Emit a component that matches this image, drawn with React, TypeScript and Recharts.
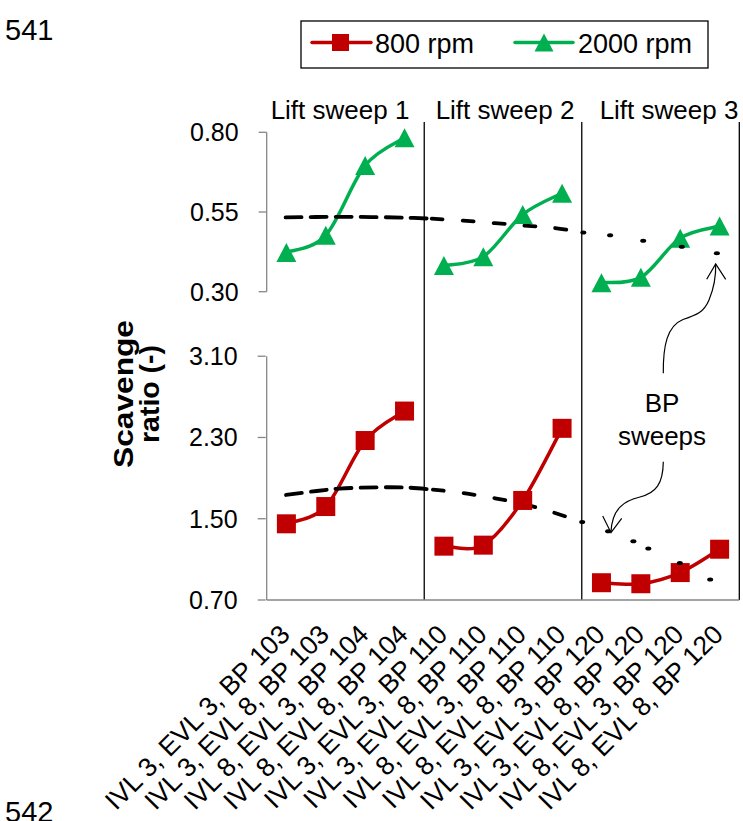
import React from 'react';
import { ComposedChart, Line, XAxis, YAxis, ReferenceLine } from 'recharts';

// ---- data ----
const categories = [
  'IVL 3, EVL 3, BP 103',
  'IVL 3, EVL 8, BP 103',
  'IVL 8, EVL 3, BP 104',
  'IVL 8, EVL 8, BP 104',
  'IVL 3, EVL 3, BP 110',
  'IVL 3, EVL 8, BP 110',
  'IVL 8, EVL 3, BP 110',
  'IVL 8, EVL 8, BP 110',
  'IVL 3, EVL 3, BP 120',
  'IVL 3, EVL 8, BP 120',
  'IVL 8, EVL 3, BP 120',
  'IVL 8, EVL 8, BP 120',
];
const sweepNames = ['Lift sweep 1', 'Lift sweep 2', 'Lift sweep 3'];
const seriesNames = ['800 rpm', '2000 rpm'];

// scavenge ratio per operating point
const rpm800 = [1.45, 1.62, 2.27, 2.56, 1.23, 1.24, 1.68, 2.39, 0.87, 0.86, 0.97, 1.2];
const rpm2000 = [0.423, 0.477, 0.696, 0.783, 0.382, 0.41, 0.542, 0.609, 0.328, 0.345, 0.468, 0.506];

const ticks800 = [0.7, 1.5, 2.3, 3.1];
const ticks2000 = [0.3, 0.55, 0.8];

// back-pressure sweep trend (position on category axis, scavenge ratio)
const trend800X = [0.99, 1.77, 2.36, 3.29, 4.06, 4.72, 5.49, 6.3, 6.98, 7.74, 8.51, 9.17, 9.81, 10.19, 10.99, 11.76];
const trend800Y = [1.734, 1.773, 1.797, 1.809, 1.807, 1.787, 1.753, 1.701, 1.649, 1.566, 1.468, 1.376, 1.278, 1.206, 1.064, 0.901];
const trend2000X = [0.98, 2.36, 3.29, 4.06, 4.69, 5.49, 6.3, 6.98, 7.74, 8.54, 9.22, 10.06, 11.04, 11.93];
const trend2000Y = [0.533, 0.535, 0.534, 0.532, 0.529, 0.523, 0.515, 0.508, 0.501, 0.486, 0.477, 0.46, 0.441, 0.421];

// ---- layout ----
const FONT = '"Liberation Sans", Arial, Helvetica, sans-serif';
const W = 743;
const H = 821;
const PLOT_LEFT = 266.7;
const PLOT_RIGHT = 739.3;
const PLOT_TOP = 122;
const PLOT_BOTTOM = 600;
const Y_AXIS_W = 1;
const X_TICK_AXIS_H = 7;
const X_LABEL_AXIS_H = H - PLOT_BOTTOM - X_TICK_AXIS_H;

const RED = '#C00000';
const GREEN = '#00B050';
const AXIS_GREY = '#868686';

// upper panel (2000 rpm): 0.80 sits at y=132.3, 318.8 px per unit
const TOP_PX = 318.8;
const TOP_REF_Y = 132.3;
const topDomain: [number, number] = [
  0.8 - (PLOT_BOTTOM - TOP_REF_Y) / TOP_PX,
  0.8 + (TOP_REF_Y - PLOT_TOP) / TOP_PX,
];
// lower panel (800 rpm): 0.70 sits on the x axis, 101.58 px per unit
const BOT_PX = 101.58;
const bottomDomain: [number, number] = [0.7, 0.7 + (PLOT_BOTTOM - PLOT_TOP) / BOT_PX];

const boundaryTicks = Array.from({ length: categories.length + 1 }, (_, i) => i + 0.5);
const centreTicks = categories.map((_, i) => i + 1);

type Pt = { x: number; y: number };
const sweepPoints = (values: number[], sweep: number): Pt[] =>
  values.slice(sweep * 4, sweep * 4 + 4).map((v, k) => ({ x: sweep * 4 + k + 1, y: v }));
const trendPoints = (xs: number[], ys: number[], from: number, to: number): Pt[] =>
  xs.slice(from, to + 1).map((x, k) => ({ x, y: ys[from + k] }));

// smoothed line similar to spreadsheet "smoothed line" charts (cardinal Bezier)
function smoothCurve(context: any) {
  let pts: [number, number][] = [];
  return {
    areaStart() {},
    areaEnd() {},
    lineStart() {
      pts = [];
    },
    point(x: number, y: number) {
      pts.push([+x, +y]);
    },
    lineEnd() {
      const n = pts.length;
      if (!n) return;
      context.moveTo(pts[0][0], pts[0][1]);
      const t = 1 / 6;
      for (let i = 0; i < n - 1; i++) {
        const p0 = pts[Math.max(i - 1, 0)];
        const p1 = pts[i];
        const p2 = pts[i + 1];
        const p3 = pts[Math.min(i + 2, n - 1)];
        context.bezierCurveTo(
          p1[0] + (p2[0] - p0[0]) * t,
          p1[1] + (p2[1] - p0[1]) * t,
          p2[0] - (p3[0] - p1[0]) * t,
          p2[1] - (p3[1] - p1[1]) * t,
          p2[0],
          p2[1],
        );
      }
    },
  };
}

const squareDot = (p: any) => (
  <rect key={`sq-${p.index}`} x={p.cx - 9.5} y={p.cy - 9.5} width={19} height={19} fill={RED} />
);
const triangleDot = (p: any) => (
  <polygon
    key={`tr-${p.index}`}
    points={`${p.cx},${p.cy - 9.5} ${p.cx + 10},${p.cy + 9.5} ${p.cx - 10},${p.cy + 9.5}`}
    fill={GREEN}
  />
);
// the sparse end of each trend is a row of short dots
const trendDot = (p: any) => (
  <ellipse key={`td-${p.index}`} cx={p.cx} cy={p.cy} rx={3} ry={2} fill="#000" />
);

const LABEL_DX = 5;
const LABEL_DY = 21;
const CategoryTick = (props: any) => {
  const { x, y, payload } = props;
  const label = categories[Math.round(payload.value) - 1];
  const ax = x + LABEL_DX;
  const ay = y + LABEL_DY;
  return (
    <text
      x={ax}
      y={ay}
      transform={`rotate(-45 ${ax} ${ay})`}
      textAnchor="end"
      fontSize={26.5}
      fontFamily={FONT}
      fill="#000"
    >
      {label}
    </text>
  );
};

const trendDash = ['16 9', '11 20'];

function Overlay() {
  const sweepLabelX = [340, 505, 669];
  return (
    <svg
      width={W}
      height={H}
      style={{ position: 'absolute', left: 0, top: 0, pointerEvents: 'none' }}
      fontFamily={FONT}
    >
      <text x={5} y={39.5} fontSize={29} fill="#000">541</text>
      <text x={5} y={822} fontSize={29} fill="#000">542</text>

      {/* legend */}
      <rect x={301} y={21} width={407} height={47} fill="#fff" stroke="#000" strokeWidth={1.3} />
      <line x1={312} y1={42.5} x2={371} y2={42.5} stroke={RED} strokeWidth={3.5} strokeLinecap="round" />
      <rect x={332} y={34} width={17} height={17} fill={RED} />
      <text x={375} y={53} fontSize={27} fill="#000">{seriesNames[0]}</text>
      <line x1={515} y1={42.5} x2={573} y2={42.5} stroke={GREEN} strokeWidth={3.5} strokeLinecap="round" />
      <polygon points="544,33.5 553.5,51.5 534.5,51.5" fill={GREEN} />
      <text x={578} y={53} fontSize={27} fill="#000">{seriesNames[1]}</text>

      {/* panel headings */}
      {sweepNames.map((s, i) => (
        <text key={s} x={sweepLabelX[i]} y={119} fontSize={26} textAnchor="middle" fill="#000">
          {s}
        </text>
      ))}

      {/* axis title */}
      <text
        x={133}
        y={394}
        transform="rotate(-90 133 394)"
        textAnchor="middle"
        fontSize={27}
        fontWeight="bold"
        textLength={148}
        lengthAdjust="spacingAndGlyphs"
        fill="#000"
      >
        Scavenge
      </text>
      <text
        x={159}
        y={394}
        transform="rotate(-90 159 394)"
        textAnchor="middle"
        fontSize={27}
        fontWeight="bold"
        textLength={98}
        lengthAdjust="spacingAndGlyphs"
        fill="#000"
      >
        ratio (-)
      </text>

      {/* BP sweep annotation */}
      <text x={662} y={412} fontSize={26} textAnchor="middle" fill="#000">BP</text>
      <text x={662} y={445} fontSize={26} textAnchor="middle" fill="#000">sweeps</text>
      <g fill="none" stroke="#000" strokeWidth={1.2}>
        <path d="M663.3,373.3 C663,346 667,326 683,319.5 C697,315 704,312 709,300 C714,288 716,276 715.7,264" />
        <path d="M706.7,279.3 L715.7,264 L725.7,279.3" />
        <path d="M663.3,461.7 C663,484 656,493 640,497 C625,500.5 612,508 611,532" />
        <path d="M602.7,516 L611,532.7 L621.7,518.3" />
      </g>
    </svg>
  );
}

const trendLine = (key: string, yAxisId: string, data: Pt[], part: number) => (
  <Line
    key={key}
    xAxisId="b_labels"
    yAxisId={yAxisId}
    data={data}
    dataKey="y"
    type={smoothCurve as any}
    stroke="#000"
    strokeOpacity={part < 2 ? 1 : 0}
    strokeWidth={3.8}
    strokeLinecap="round"
    strokeDasharray={part < 2 ? trendDash[part] : undefined}
    dot={part < 2 ? false : trendDot}
    activeDot={false}
    isAnimationActive={false}
  />
);

export default function App() {
  return (
    <div style={{ position: 'absolute', left: 0, top: 0, width: W, height: H, background: '#fff' }}>
      <ComposedChart
        width={W}
        height={H}
        margin={{ top: PLOT_TOP, right: W - PLOT_RIGHT, bottom: 0, left: PLOT_LEFT - 2 * Y_AXIS_W }}
      >
        <XAxis
          xAxisId="b_labels"
          dataKey="x"
          type="number"
          domain={[0.5, 12.5]}
          allowDataOverflow
          ticks={centreTicks}
          interval={0}
          height={X_LABEL_AXIS_H}
          tickLine={false}
          axisLine={false}
          tick={<CategoryTick />}
        />
        <XAxis
          xAxisId="a_ticks"
          dataKey="x"
          type="number"
          domain={[0.5, 12.5]}
          allowDataOverflow
          ticks={boundaryTicks}
          interval={0}
          height={X_TICK_AXIS_H}
          tick={false}
          tickSize={7}
          tickLine={{ stroke: AXIS_GREY, strokeWidth: 1.3 }}
          axisLine={{ stroke: AXIS_GREY, strokeWidth: 1.3 }}
        />
        <YAxis
          yAxisId="b_low"
          type="number"
          domain={bottomDomain}
          allowDataOverflow
          ticks={ticks800}
          interval={0}
          width={Y_AXIS_W}
          axisLine={false}
          tickSize={8}
          tickMargin={20}
          tickLine={{ stroke: AXIS_GREY, strokeWidth: 1.3 }}
          tick={{ fill: '#000', fontSize: 25, fontFamily: FONT }}
          tickFormatter={(v: number) => v.toFixed(2)}
        />
        <YAxis
          yAxisId="a_high"
          type="number"
          domain={topDomain}
          allowDataOverflow
          ticks={ticks2000}
          interval={0}
          width={Y_AXIS_W}
          axisLine={false}
          tickSize={8}
          tickMargin={20}
          tickLine={{ stroke: AXIS_GREY, strokeWidth: 1.3 }}
          tick={{ fill: '#000', fontSize: 25, fontFamily: FONT }}
          tickFormatter={(v: number) => v.toFixed(2)}
        />

        {/* y axis lines, one per panel */}
        <ReferenceLine
          xAxisId="b_labels"
          yAxisId="a_high"
          segment={[{ x: 0.5, y: ticks2000[0] }, { x: 0.5, y: ticks2000[ticks2000.length - 1] }]}
          stroke={AXIS_GREY}
          strokeWidth={1.3}
          ifOverflow="visible"
        />
        <ReferenceLine
          xAxisId="b_labels"
          yAxisId="b_low"
          segment={[{ x: 0.5, y: ticks800[0] }, { x: 0.5, y: ticks800[ticks800.length - 1] }]}
          stroke={AXIS_GREY}
          strokeWidth={1.3}
          ifOverflow="visible"
        />

        {/* lift sweep separators */}
        {[4.5, 8.5, 12.5].map((x) => (
          <ReferenceLine key={`sep-${x}`} xAxisId="b_labels" yAxisId="a_high" x={x} stroke="#000" strokeWidth={1.3} />
        ))}

        {[0, 1, 2].map((s) => (
          <Line
            key={`r-${s}`}
            xAxisId="b_labels"
            yAxisId="b_low"
            data={sweepPoints(rpm800, s)}
            dataKey="y"
            type={smoothCurve as any}
            stroke={RED}
            strokeWidth={3.5}
            dot={squareDot}
            activeDot={false}
            isAnimationActive={false}
          />
        ))}
        {[0, 1, 2].map((s) => (
          <Line
            key={`g-${s}`}
            xAxisId="b_labels"
            yAxisId="a_high"
            data={sweepPoints(rpm2000, s)}
            dataKey="y"
            type={smoothCurve as any}
            stroke={GREEN}
            strokeWidth={3.5}
            dot={triangleDot}
            activeDot={false}
            isAnimationActive={false}
          />
        ))}

        {/* BP sweep trends */}
        {[
          [0, 5],
          [5, 10],
          [10, 15],
        ].map(([a, b], i) => trendLine(`t8-${i}`, 'b_low', trendPoints(trend800X, trend800Y, a, b), i))}
        {[
          [0, 4],
          [4, 9],
          [9, 13],
        ].map(([a, b], i) => trendLine(`t20-${i}`, 'a_high', trendPoints(trend2000X, trend2000Y, a, b), i))}
      </ComposedChart>
      <Overlay />
    </div>
  );
}
